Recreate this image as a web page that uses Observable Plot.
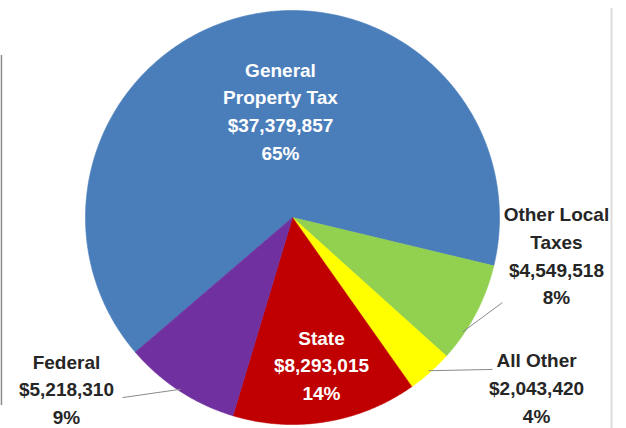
<!DOCTYPE html>
<html><head><meta charset="utf-8">
<script src="https://cdn.jsdelivr.net/npm/d3@7"></script>
<script src="https://cdn.jsdelivr.net/npm/@observablehq/plot@0.6"></script>
<style>body{margin:0;background:#fff;overflow:hidden}</style>
</head><body><div id="chart"></div>
<script>
// ---- data ----
const categories = ["General Property Tax", "Other Local Taxes", "All Other", "State", "Federal"];
const labelNames = ["General\nProperty Tax", "Other Local\nTaxes", "All Other", "State", "Federal"];
const amounts = [37379857, 4549518, 2043420, 8293015, 5218310];
const colors = ["#4A7EBB", "#92D050", "#FFFF00", "#C00000", "#7030A0"];

// ---- layout (data units: pie radius = 1) ----
const greenStartDeg = 103.5;            // where "Other Local Taxes" begins, clockwise from 12 o'clock
const labelLayout = [
  {x: -0.058, y: 0.522, fill: "#ffffff", leader: null, leaderAngle: 0.5},
  {x: 1.275, y: -0.176, fill: "#262626", leader: [1.014, -0.411], leaderAngle: 0.72},
  {x: 1.179, y: -0.815, fill: "#262626", leader: [0.966, -0.734], leaderAngle: 0.5},
  {x: 0.140, y: -0.705, fill: "#ffffff", leader: null, leaderAngle: 0.5},
  {x: -1.092, y: -0.822, fill: "#262626", leader: [-0.821, -0.870], leaderAngle: 0.5}
];

const total = d3.sum(amounts);
const fmt = d3.format("$,");
const toRad = Math.PI / 180;
const start = greenStartDeg * toRad - 2 * Math.PI * amounts[0] / total;
const arcs = d3.pie().sort(null).value(d => d).startAngle(start).endAngle(start + 2 * Math.PI)(amounts);

const polar = (a, r) => [r * Math.sin(a), r * Math.cos(a)];

// slice polygons
const slicePts = [];
arcs.forEach((a, i) => {
  const n = Math.max(2, Math.ceil((a.endAngle - a.startAngle) / (0.4 * toRad)));
  slicePts.push({name: categories[i], x: 0, y: 0});
  for (let k = 0; k <= n; k++) {
    const t = a.startAngle + (a.endAngle - a.startAngle) * k / n;
    const [x, y] = polar(t, 1);
    slicePts.push({name: categories[i], x, y});
  }
  slicePts.push({name: categories[i], x: 0, y: 0});
});

// labels
const labels = categories.map((c, i) => ({
  name: c,
  text: `${labelNames[i]}\n${fmt(amounts[i])}\n${Math.round(amounts[i] / total * 100)}%`,
  x: labelLayout[i].x, y: labelLayout[i].y, fill: labelLayout[i].fill
}));

// leader lines: from slice edge to label
const leaders = [];
arcs.forEach((a, i) => {
  const L = labelLayout[i].leader;
  if (!L) return;
  const t = labelLayout[i].leaderAngle;
  const [x1, y1] = polar(a.startAngle + (a.endAngle - a.startAngle) * t, 0.99);
  leaders.push({name: categories[i], x1, y1, x2: L[0], y2: L[1]});
});

const chart = Plot.plot({
  width: 626,
  height: 428,
  margin: 0,
  x: {domain: [-1, 1], range: [85, 499], axis: null},
  y: {domain: [-1, 1], range: [424, 10], axis: null},
  color: {domain: categories, range: colors},
  style: {background: "#fff", overflow: "visible"},
  marks: [
    Plot.ruleX([-1.406], {y1: 0.783, y2: -0.908, stroke: "#8c8c8c", strokeWidth: 1.5}),
    Plot.ruleX([1.541], {y1: 1.01, y2: -1.03, stroke: "#dcdcdc", strokeWidth: 2}),
    Plot.line(slicePts, {x: "x", y: "y", z: "name", fill: "name", stroke: "name", strokeWidth: 0.6, curve: "linear"}),
    Plot.link(leaders, {x1: "x1", y1: "y1", x2: "x2", y2: "y2", stroke: "#8a8a8a", strokeWidth: 1}),
    Plot.text(labels, {
      x: "x", y: "y", text: "text", fill: d => d.fill,
      fontSize: 19, fontWeight: 700, fontFamily: "Liberation Sans",
      lineHeight: 1.45, lineAnchor: "middle", textAnchor: "middle"
    })
  ]
});
document.getElementById("chart").append(chart);
</script>
</body></html>
